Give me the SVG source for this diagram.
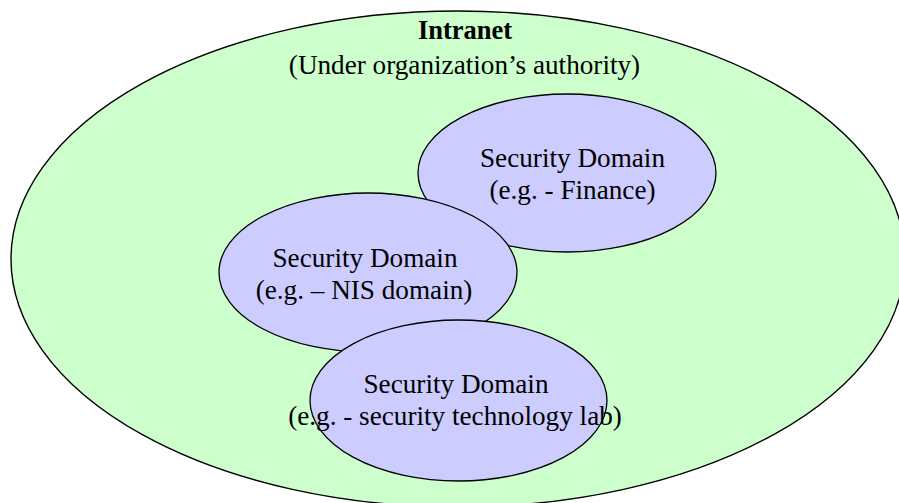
<svg xmlns="http://www.w3.org/2000/svg" width="899" height="503" viewBox="0 0 899 503">
<style>
.outer{fill:#CCFFCC;stroke:#000;stroke-width:1.4}
.dom{fill:#CCCCFF;stroke:#000;stroke-width:1.3}
text{font-family:"Liberation Serif","Times New Roman",serif;font-size:27.2px;fill:#000;text-anchor:middle}
.b{font-weight:bold;font-size:26.5px}
</style>
<g id="intranet">
<ellipse class="outer" cx="458" cy="259" rx="447" ry="248"/>
<text class="b" x="465" y="39">Intranet</text>
<text x="464.5" y="74">(Under organization’s authority)</text>
</g>
<g id="finance">
<ellipse class="dom" cx="567" cy="173" rx="149" ry="79"/>
<text x="572.5" y="167">Security Domain</text>
<text x="572.5" y="199">(e.g. - Finance)</text>
</g>
<g id="nis">
<ellipse class="dom" cx="368" cy="272.5" rx="149" ry="79.5"/>
<text x="365" y="267">Security Domain</text>
<text x="364" y="299">(e.g. – NIS domain)</text>
</g>
<g id="lab">
<ellipse class="dom" cx="458.5" cy="400.5" rx="148.5" ry="80.5"/>
<text x="456" y="393">Security Domain</text>
<text x="455" y="425">(e.g. - security technology lab)</text>
</g>
<g id="connectors"/>
</svg>
